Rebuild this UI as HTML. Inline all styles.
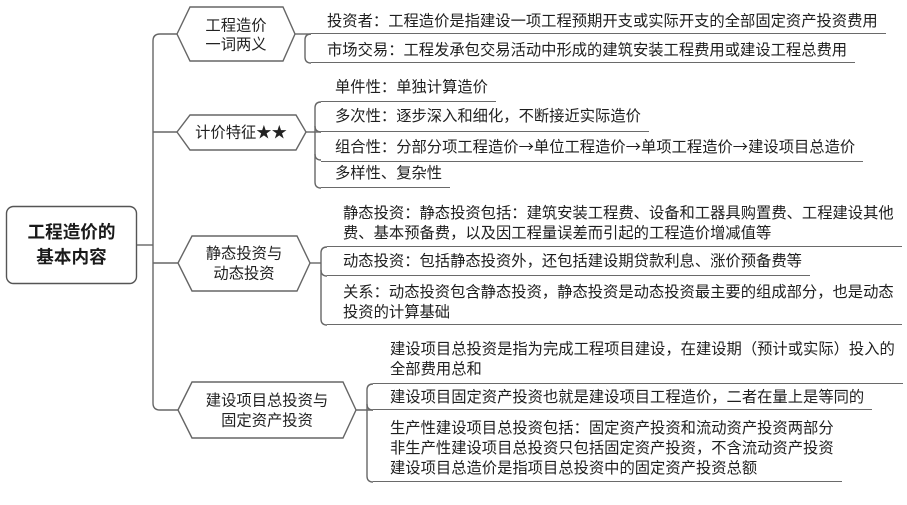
<!DOCTYPE html>
<html><head><meta charset="utf-8">
<style>
html,body{margin:0;padding:0;background:#fff;}
body{width:907px;height:505px;position:relative;overflow:hidden;font-family:"Liberation Sans","Noto Sans CJK SC",sans-serif;color:#1e1e1e;}
.it{position:absolute;font-size:15.3px;line-height:20px;white-space:nowrap;border-bottom:1.4px solid #6a6a6a;padding-right:8px;}
.ar{font-family:"Noto Sans CJK SC",sans-serif;}
svg{position:absolute;left:0;top:0;}
</style></head><body>
<svg width="907" height="505" viewBox="0 0 907 505">
<g fill="none" stroke="#666" stroke-width="1.4">
<rect x="6.5" y="206.5" width="130" height="77" rx="7" stroke="#555"/>
<path d="M137,245 H153"/>
<path d="M177,34 H160 Q153,34 153,41 V403 Q153,410 160,410 H178"/>
<path d="M153,132 H177"/>
<path d="M153,263 H178"/>
<polygon points="177,34 190,7 283,7 295,34 283,61 190,61" fill="#fff"/>
<polygon points="177,132 190,115 296,115 306,132 296,150 190,150" fill="#fff"/>
<polygon points="178,263 192,236 297,236 310,263 297,291 192,291" fill="#fff"/>
<polygon points="178,410 192,382 343,382 356,410 343,438 192,438" fill="#fff"/>
<!-- branch 1 -->
<path d="M295,34 H311"/>
<path d="M311,34 Q305,34 305,40 V57 Q305,63 311,63"/>
<!-- branch 2 -->
<path d="M306,132 H321"/>
<path d="M321,102 Q315,102 315,108 V182 Q315,188 321,188"/>
<path d="M315,126 Q315,132 321,132"/>
<path d="M315,154 Q315,160 321,160"/>
<!-- branch 3 -->
<path d="M310,263 H321"/>
<path d="M327,247 Q321,247 321,253 V319 Q321,325 327,325"/>
<path d="M321,270 Q321,276 327,276"/>
<!-- branch 4 -->
<path d="M356,410 H373"/>
<path d="M373,384 Q367,384 367,390 V476 Q367,482 373,482"/>
<path d="M367,404 Q367,410 373,410"/>
</g>
<g font-family="Liberation Sans, Noto Sans CJK SC, sans-serif" fill="#1a1a1a" text-anchor="middle" dominant-baseline="central">
<text x="71.5" y="232" font-size="17.6" font-weight="bold">工程造价的</text>
<text x="71.5" y="257" font-size="17.6" font-weight="bold">基本内容</text>
<g font-size="15.3" fill="#222">
<text x="236" y="26">工程造价</text>
<text x="236" y="45">一词两义</text>
<text x="241" y="133">计价特征★★</text>
<text x="244" y="254">静态投资与</text>
<text x="244" y="274">动态投资</text>
<text x="267" y="401">建设项目总投资与</text>
<text x="267" y="421">固定资产投资</text>
</g>
</g>
</svg>

<!-- branch 1 items -->
<div class="it" style="left:311px;top:12px;padding-left:16px;padding-bottom:1px;">投资者：工程造价是指建设一项工程预期开支或实际开支的全部固定资产投资费用</div>
<div class="it" style="left:311px;top:41px;padding-left:16px;padding-bottom:1px;">市场交易：工程发承包交易活动中形成的建筑安装工程费用或建设工程总费用</div>

<!-- branch 2 items -->
<div class="it" style="left:321px;top:78px;padding-left:14px;padding-bottom:3px;">单件性：单独计算造价</div>
<div class="it" style="left:321px;top:107px;padding-left:14px;padding-bottom:4px;">多次性：逐步深入和细化，不断接近实际造价</div>
<div class="it" style="left:321px;top:136px;padding-left:14px;padding-bottom:3px;">组合性：分部分项工程造价<span class="ar">→</span>单位工程造价<span class="ar">→</span>单项工程造价<span class="ar">→</span>建设项目总造价</div>
<div class="it" style="left:321px;top:164px;padding-left:14px;padding-bottom:3px;">多样性、复杂性</div>

<!-- branch 3 items -->
<div class="it" style="left:327px;top:204px;padding-left:16px;padding-bottom:2px;">静态投资：静态投资包括：建筑安装工程费、设备和工器具购置费、工程建设其他<br>费、基本预备费，以及因工程量误差而引起的工程造价增减值等</div>
<div class="it" style="left:327px;top:252px;padding-left:16px;padding-bottom:3px;">动态投资：包括静态投资外，还包括建设期贷款利息、涨价预备费等</div>
<div class="it" style="left:327px;top:283px;padding-left:16px;padding-bottom:1px;">关系：动态投资包含静态投资，静态投资是动态投资最主要的组成部分，也是动态<br>投资的计算基础</div>

<!-- branch 4 items -->
<div class="it" style="left:373px;top:340px;padding-left:17px;padding-bottom:3px;">建设项目总投资是指为完成工程项目建设，在建设期（预计或实际）投入的<br>全部费用总和</div>
<div class="it" style="left:373px;top:388px;padding-left:17px;padding-bottom:1px;">建设项目固定资产投资也就是建设项目工程造价，二者在量上是等同的</div>
<div class="it" style="left:373px;top:419px;padding-left:17px;padding-bottom:2px;">生产性建设项目总投资包括：固定资产投资和流动资产投资两部分<br>非生产性建设项目总投资只包括固定资产投资，不含流动资产投资<br>建设项目总造价是指项目总投资中的固定资产投资总额</div>
</body></html>
